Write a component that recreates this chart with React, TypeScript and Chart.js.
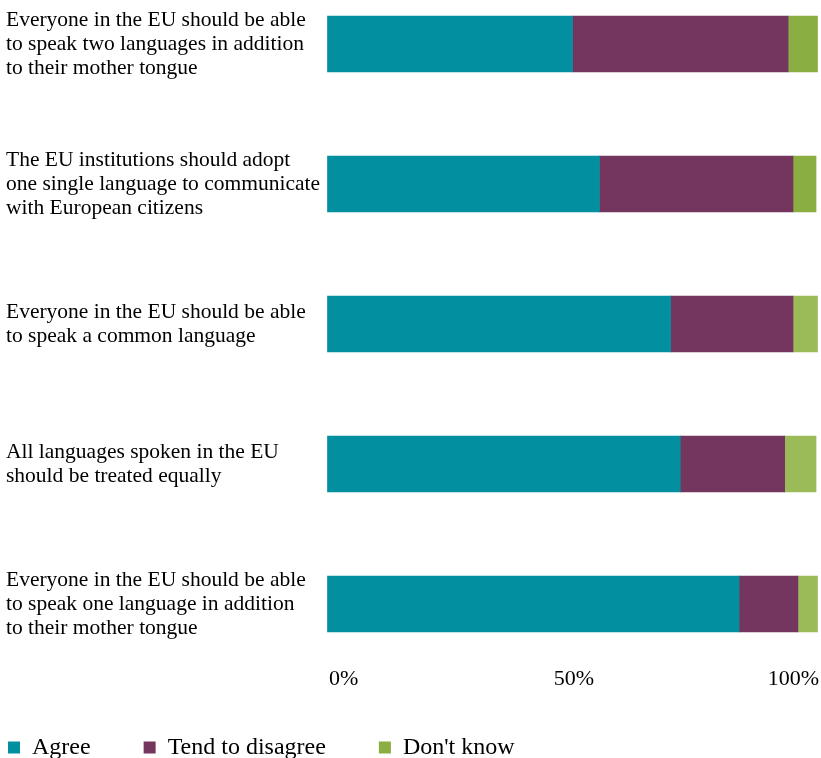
import React, { useEffect, useRef } from 'react';
import { Chart, registerables } from 'chart.js';

Chart.register(...registerables);

const categories: string[][] = [
  ['Everyone in the EU should be able', 'to speak two languages in addition', 'to their mother tongue'],
  ['The EU institutions should adopt', 'one single language to communicate', 'with European citizens'],
  ['Everyone in the EU should be able', 'to speak a common language'],
  ['All languages spoken in the EU', 'should be treated equally'],
  ['Everyone in the EU should be able', 'to speak one language in addition', 'to their mother tongue'],
];
const seriesNames = ['Agree', 'Tend to disagree', "Don't know"];
const agree = [50, 55.5, 70, 72, 84];
const tendToDisagree = [44, 39.5, 25, 21.3, 12];
const dontKnow = [6, 4.7, 5, 6.4, 4];
const xMin = 0;
const xMax = 100;
const xStep = 50;

const AGREE_COLOR = '#028FA0';
const DISAGREE_COLOR = '#74365F';
const DK_COLORS = ['#8BAE42', '#8BAE42', '#9BBB59', '#9BBB59', '#9BBB59'];
const LEGEND_COLORS = [AGREE_COLOR, DISAGREE_COLOR, '#8BAE42'];
const FONT = "'Liberation Serif', 'Times New Roman', serif";
const LEGEND_PAD = 53;
const LEGEND_FONT = 24;

const legendShift = {
  id: 'legendShift',
  afterLayout(chart: any) {
    const lg = chart.legend;
    if (!lg) return;
    const dx = 8 - (lg.left + LEGEND_PAD);
    const dy = 747.5 - (lg.top + LEGEND_PAD + LEGEND_FONT / 2);
    lg.left += dx;
    lg.right += dx;
    lg.top += dy;
    lg.bottom += dy;
  },
};

export default function App() {
  const ref = useRef<HTMLCanvasElement | null>(null);

  useEffect(() => {
    document.body.style.margin = '0';
    if (!ref.current) return;
    const chart = new Chart(ref.current, {
      type: 'bar',
      data: {
        labels: categories as any,
        datasets: [
          { label: seriesNames[0], data: agree, backgroundColor: AGREE_COLOR, barThickness: 56, clip: false as any },
          { label: seriesNames[1], data: tendToDisagree, backgroundColor: DISAGREE_COLOR, barThickness: 56, clip: false as any },
          { label: seriesNames[2], data: dontKnow, backgroundColor: DK_COLORS, barThickness: 56, clip: false as any },
        ],
      },
      options: {
        indexAxis: 'y',
        animation: false,
        responsive: false,
        devicePixelRatio: 1,
        layout: { padding: { top: 44, left: 6, right: 3.5, bottom: -33 } },
        plugins: {
          tooltip: { enabled: false },
          legend: {
            position: 'bottom',
            align: 'start',
            labels: {
              boxWidth: 12,
              boxHeight: 12,
              padding: LEGEND_PAD,
              color: '#000',
              font: { family: FONT, size: LEGEND_FONT },
              generateLabels: (c: any) =>
                c.data.datasets.map((ds: any, i: number) => ({
                  text: ds.label,
                  fillStyle: LEGEND_COLORS[i],
                  strokeStyle: LEGEND_COLORS[i],
                  lineWidth: 0,
                  hidden: false,
                  datasetIndex: i,
                })),
            },
          },
        },
        scales: {
          y: {
            type: 'category',
            stacked: true,
            offset: false,
            grid: { display: false },
            border: { display: false },
            ticks: {
              crossAlign: 'far',
              autoSkip: false,
              padding: 0,
              color: '#000',
              font: { family: FONT, size: 21.5, lineHeight: 24 / 21.5 },
            },
            afterFit: (s: any) => {
              s.width = 321.5;
            },
          },
          x: {
            type: 'linear',
            position: 'bottom',
            stacked: true,
            min: xMin,
            max: xMax,
            grid: { display: false, drawTicks: false },
            border: { display: false },
            ticks: {
              stepSize: xStep,
              align: 'inner',
              labelOffset: 1.5,
              padding: 62,
              maxRotation: 0,
              autoSkip: false,
              color: '#000',
              font: { family: FONT, size: 22 },
              callback: (v: any) => v + '%',
            },
            afterFit: (s: any) => {
              s.height = 100;
              s.paddingLeft = 0;
              s.paddingRight = 0;
            },
          },
        },
      } as any,
      plugins: [legendShift],
    });
    return () => chart.destroy();
  }, []);

  return (
    <div style={{ width: 821, height: 758 }}>
      <canvas ref={ref} width={821} height={758} style={{ display: 'block' }} />
    </div>
  );
}
